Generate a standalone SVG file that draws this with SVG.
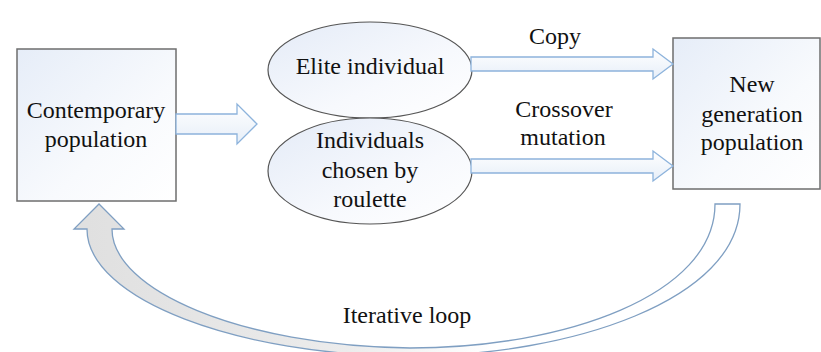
<svg xmlns="http://www.w3.org/2000/svg" width="821" height="352" viewBox="0 0 821 352">
<defs>
<linearGradient id="boxFill" x1="0" y1="0" x2="1" y2="1">
<stop offset="0" stop-color="#e6edf8"/>
<stop offset="0.6" stop-color="#f8fafd"/>
<stop offset="1" stop-color="#ffffff"/>
</linearGradient>
<linearGradient id="ellFill" x1="0" y1="0" x2="1" y2="1">
<stop offset="0" stop-color="#e4ebf7"/>
<stop offset="0.6" stop-color="#f7f9fd"/>
<stop offset="1" stop-color="#ffffff"/>
</linearGradient>
<linearGradient id="arrFill" x1="0" y1="0" x2="0" y2="1">
<stop offset="0" stop-color="#ffffff"/>
<stop offset="1" stop-color="#e6eef8"/>
</linearGradient>
<linearGradient id="loopFill" gradientUnits="userSpaceOnUse" x1="87" y1="0" x2="740" y2="0">
<stop offset="0" stop-color="#e0e0e0"/>
<stop offset="0.4" stop-color="#ececec"/>
<stop offset="0.62" stop-color="#ffffff"/>
<stop offset="1" stop-color="#ffffff"/>
</linearGradient>
</defs>
<style>
.box{fill:url(#boxFill);stroke:#6e6e6e;stroke-width:1.5}
.ell{fill:url(#ellFill);stroke:#555;stroke-width:1.2}
.barr{fill:url(#arrFill);stroke:#8db3dc;stroke-width:1.3}
.loop{fill:url(#loopFill);stroke:#7f9fc2;stroke-width:1.3}
.t{font-size:24px;fill:#111;text-anchor:middle}
</style>
<rect width="821" height="352" fill="#ffffff"/>
<g font-family="'Liberation Serif', 'Times New Roman', 'DejaVu Serif', serif">
<g id="node-contemporary">
<rect class="box" x="17" y="49" width="159" height="152"/>
<text class="t" x="96" y="118">Contemporary</text>
<text class="t" x="96" y="147">population</text>
</g>
<g id="node-elite">
<ellipse class="ell" cx="370" cy="70" rx="102" ry="48"/>
<text class="t" x="370" y="74">Elite individual</text>
</g>
<g id="node-roulette">
<ellipse class="ell" cx="370" cy="171" rx="102" ry="53"/>
<text class="t" x="370" y="148">Individuals</text>
<text class="t" x="370" y="178">chosen by</text>
<text class="t" x="370" y="207">roulette</text>
</g>
<g id="node-newgen">
<rect class="box" x="673" y="38" width="147" height="151"/>
<text class="t" x="752" y="92">New</text>
<text class="t" x="752" y="122">generation</text>
<text class="t" x="752" y="150">population</text>
</g>
<g id="connectors">
<path class="barr" d="M176,114 L237,114 L237,104 L257,124 L237,144 L237,134 L176,134 Z"/>
<path class="barr" d="M471,57 L653,57 L653,49 L673,64 L653,79 L653,71 L471,71 Z"/>
<path class="barr" d="M471,159 L653,159 L653,151 L673,166 L653,181 L653,173 L471,173 Z"/>
<path class="loop" d="M740,204 C740,300 570,356 410,356 C240,356 87,300 87,229 L74,229 L99,204 L124,229 L112,229 C112,290 240,346 410,348 C565,348 715,295 715,204 Z"/>
<text class="t" x="555" y="44">Copy</text>
<text class="t" x="564" y="117">Crossover</text>
<text class="t" x="563" y="145">mutation</text>
<text class="t" x="407" y="323">Iterative loop</text>
</g>
</g>
</svg>
